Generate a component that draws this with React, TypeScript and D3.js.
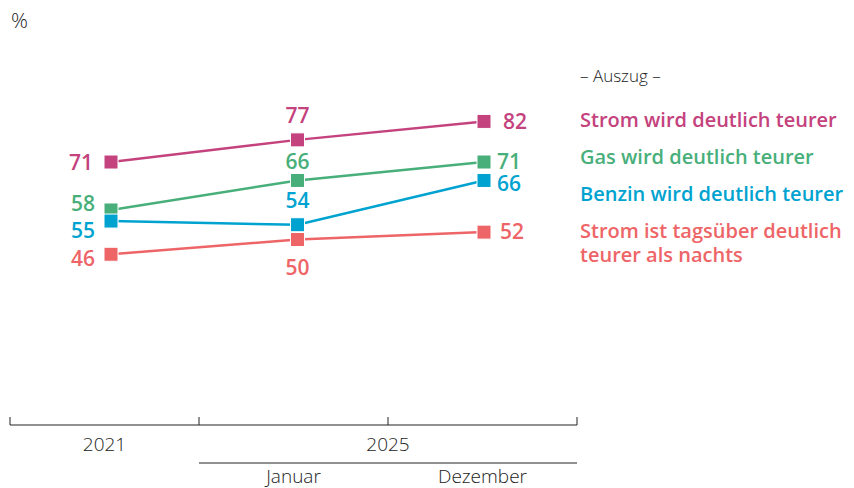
import React from "react";
import * as d3 from "d3";

const categories = ["2021", "Januar 2025", "Dezember 2025"];
const seriesNames = [
  "Strom wird deutlich teurer",
  "Gas wird deutlich teurer",
  "Benzin wird deutlich teurer",
  "Strom ist tagsüber deutlich teurer als nachts",
];
const stromValues = [71, 77, 82];
const gasValues = [58, 66, 71];
const benzinValues = [55, 54, 66];
const tagValues = [46, 50, 52];
const colors = ["#C4427D", "#48AF7B", "#00A3D0", "#EE6567"];
const yearLabels = ["2021", "2025"];
const monthLabels = ["Januar", "Dezember"];

// label placement per series and point: [dx, dy, anchor]
const labelPlacement: [number, number, string][][] = [
  [[-18, 8, "end"], [0, -17, "middle"], [19, 8, "start"]],
  [[-16, 1, "end"], [0, -11, "middle"], [13, 7, "start"]],
  [[-16, 17, "end"], [0, -17, "middle"], [13, 11, "start"]],
  [[-16, 12, "end"], [0, 35, "middle"], [16, 7, "start"]],
];

export default function App() {
  const W = 854, H = 488;
  const allValues = [stromValues, gasValues, benzinValues, tagValues];
  const band = d3.scaleBand<string>().domain(categories).range([10, 577]);
  const x = d3.scalePoint<string>().domain(categories).range([111, 484]);
  const y = d3.scaleLinear().domain([0, 100]).range([424, 55]);
  const line = d3
    .line<number>()
    .x((_, i) => x(categories[i]) as number)
    .y((d) => y(d));
  const font = "'Open Sans', 'Noto Sans', sans-serif";
  const ticks = [10, ...categories.map((c) => (band(c) as number) + band.bandwidth())];
  const legendY = [120, 157, 194, 231];
  return (
    <svg width={W} height={H} style={{ position: "absolute", left: 0, top: 0 }} fontFamily={font}>
      <rect width={W} height={H} fill="#fff" />
      <text x={11} y={28} fontSize={21} fontWeight={300} fill="#222">%</text>
      {allValues.map((vals, s) => (
        <g key={s}>
          <path d={line(vals) || ""} fill="none" stroke={colors[s]} strokeWidth={2.5} />
          {vals.map((v, i) => (
            <rect
              key={i}
              x={(x(categories[i]) as number) - 7}
              y={y(v) - 7}
              width={14}
              height={14}
              fill={colors[s]}
              stroke="#fff"
              strokeWidth={1}
            />
          ))}
          {vals.map((v, i) => {
            const [dx, dy, anchor] = labelPlacement[s][i];
            return (
              <text
                key={"l" + i}
                x={(x(categories[i]) as number) + dx}
                y={y(v) + dy}
                fontSize={21}
                fontWeight={600}
                fill={colors[s]}
                textAnchor={anchor as any}
              >
                {v}
              </text>
            );
          })}
        </g>
      ))}
      <text x={580} y={82} fontSize={17} fontWeight={300} fill="#222">– Auszug –</text>
      {seriesNames.map((n, s) => {
        if (s === 3) {
          return (
            <text key={s} x={580} y={legendY[s] + 7} fontSize={20} fontWeight={600} fill={colors[s]}>
              <tspan x={580}>Strom ist tagsüber deutlich</tspan>
              <tspan x={580} dy={24}>teurer als nachts</tspan>
            </text>
          );
        }
        return (
          <text key={s} x={580} y={legendY[s] + 7} fontSize={20} fontWeight={600} fill={colors[s]}>
            {n}
          </text>
        );
      })}
      {/* axis */}
      <line x1={10} x2={577} y1={425} y2={425} stroke="#222" strokeWidth={1} />
      {ticks.map((t, i) => (
        <line key={i} x1={t} x2={t} y1={417} y2={425} stroke="#222" strokeWidth={1} />
      ))}
      <text x={(band(categories[0]) as number) + band.bandwidth() / 2} y={451} fontSize={19} fontWeight={300} fill="#222" textAnchor="middle">
        {yearLabels[0]}
      </text>
      <text
        x={((band(categories[1]) as number) + (band(categories[2]) as number) + band.bandwidth()) / 2}
        y={451}
        fontSize={19}
        fontWeight={300}
        fill="#222"
        textAnchor="middle"
      >
        {yearLabels[1]}
      </text>
      <line x1={band(categories[1]) as number} x2={577} y1={463} y2={463} stroke="#222" strokeWidth={1} />
      {monthLabels.map((m, i) => (
        <text
          key={m}
          x={(band(categories[i + 1]) as number) + band.bandwidth() / 2}
          y={483}
          fontSize={19}
          fontWeight={300}
          fill="#222"
          textAnchor="middle"
        >
          {m}
        </text>
      ))}
    </svg>
  );
}
